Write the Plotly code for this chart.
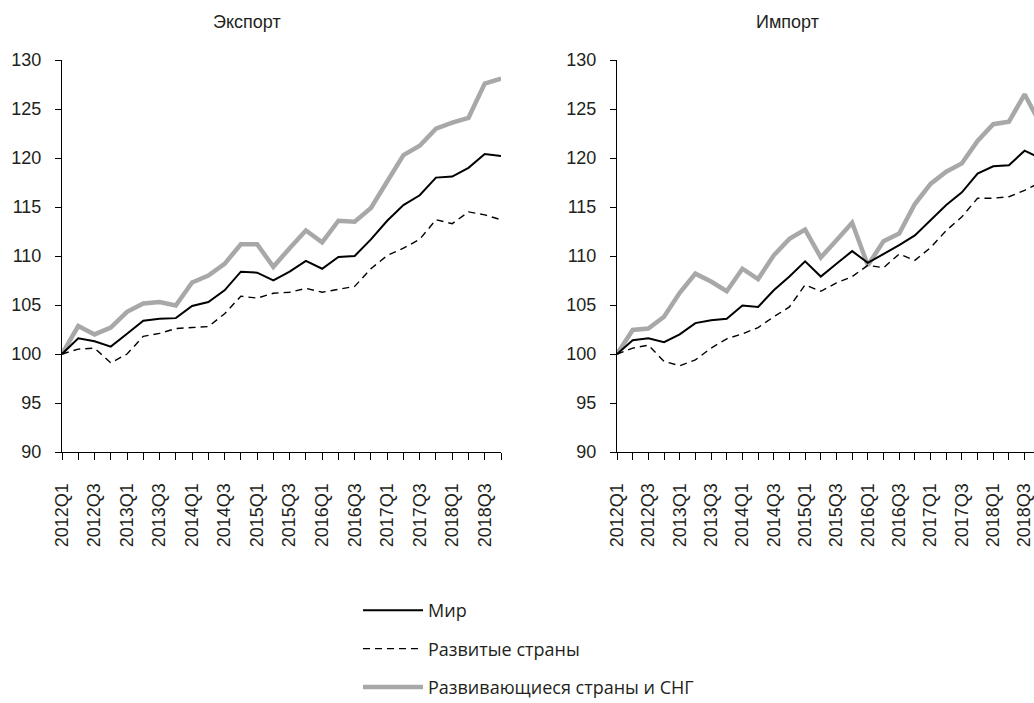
import plotly.graph_objects as go

quarters = [f"{y}Q{q}" for y in range(2012, 2019) for q in range(1, 5)]
tick_text = [q if i % 2 == 0 else "" for i, q in enumerate(quarters)]

exp_world = [100, 101.6, 101.3, 100.75, 102.07, 103.4, 103.6, 103.66, 104.9, 105.3,
             106.5, 108.4, 108.3, 107.5, 108.4, 109.5, 108.7, 109.9, 110.0, 111.7,
             113.6, 115.2, 116.2, 118.0, 118.1, 119.0, 120.4, 120.2]
exp_dev = [100, 100.5, 100.6, 99.1, 100.0, 101.8, 102.1, 102.6, 102.7, 102.8,
           104.1, 105.9, 105.7, 106.2, 106.3, 106.7, 106.3, 106.6, 106.9, 108.7,
           110.05, 110.8, 111.7, 113.7, 113.3, 114.5, 114.2, 113.7]
exp_emg = [100, 102.85, 102.0, 102.7, 104.3, 105.15, 105.3, 104.95, 107.3, 108.0,
           109.2, 111.2, 111.2, 108.9, 110.8, 112.6, 111.4, 113.6, 113.5, 114.9,
           117.6, 120.3, 121.25, 123.0, 123.6, 124.1, 127.6, 128.1]

imp_world = [100, 101.4, 101.6, 101.2, 102.0, 103.15, 103.45, 103.6, 104.95, 104.8,
             106.5, 107.9, 109.45, 107.9, 109.2, 110.5, 109.3, 110.2, 111.1, 112.1,
             113.6, 115.2, 116.5, 118.4, 119.15, 119.25, 120.75, 120.0]
imp_dev = [100, 100.6, 100.9, 99.25, 98.8, 99.4, 100.6, 101.55, 102.05, 102.7,
           103.8, 104.8, 107.05, 106.4, 107.25, 107.9, 109.05, 108.8, 110.2, 109.55,
           110.85, 112.6, 114.0, 115.9, 115.9, 116.05, 116.7, 117.5]
imp_emg = [100, 102.45, 102.6, 103.8, 106.25, 108.2, 107.4, 106.4, 108.7, 107.65,
           110.07, 111.75, 112.7, 109.85, 111.6, 113.4, 109.05, 111.5, 112.3, 115.3,
           117.35, 118.6, 119.45, 121.75, 123.45, 123.7, 126.5, 123.5]

series_names = ["Мир", "Развитые страны", "Развивающиеся страны и СНГ"]
titles = ["Экспорт", "Импорт"]

W, H = 1034, 703
TEXT = "#231f20"
FONT = "Arial, Liberation Sans, sans-serif"

styles = [
    dict(color="#000000", width=2, dash="solid"),
    dict(color="#000000", width=1.4, dash="7px,5px"),
    dict(color="#a8a8a8", width=4.5, dash="solid"),
]

fig = go.Figure()
for xa, ya, data, show in [("x", "y", [exp_world, exp_dev, exp_emg], True),
                           ("x2", "y2", [imp_world, imp_dev, imp_emg], False)]:
    for k in [2, 0, 1]:
        fig.add_trace(go.Scatter(x=quarters, y=data[k], mode="lines", line=styles[k],
                                 name=series_names[k], legendgroup=f"g{k}",
                                 legendrank=k + 1, showlegend=show,
                                 xaxis=xa, yaxis=ya))

ydom = [1 - 452 / H, 1 - 60 / H]
xaxis_common = dict(
    type="category", tickmode="array", tickvals=quarters, ticktext=tick_text,
    tickangle=-90, ticks="outside", ticklen=7, tickwidth=1, tickcolor="#000",
    showline=True, linecolor="#000", linewidth=1, showgrid=False, zeroline=False,
    tickfont=dict(family=FONT, size=18, color=TEXT), ticklabelstandoff=16,
)
yaxis_common = dict(
    range=[90, 130], dtick=5, tick0=90, ticks="outside", ticklen=6, tickwidth=1,
    tickcolor="#000", showline=True, linecolor="#000", linewidth=1, showgrid=False,
    zeroline=False, tickfont=dict(family=FONT, size=18, color=TEXT),
    ticklabelstandoff=10,
)

fig.update_layout(
    width=W, height=H, margin=dict(l=0, r=0, t=0, b=0, autoexpand=False),
    paper_bgcolor="white", plot_bgcolor="white",
    xaxis=dict(domain=[62 / W, 501 / W], range=[0, 27], anchor="y", **xaxis_common),
    yaxis=dict(domain=ydom, anchor="x", **yaxis_common),
    xaxis2=dict(domain=[617 / W, 1.0], range=[0, 26.6], anchor="y2", **xaxis_common),
    yaxis2=dict(domain=ydom, anchor="x2", **yaxis_common),
    showlegend=True,
    legend=dict(x=358 / W, xanchor="left", y=1 - 592 / H, yanchor="top",
                font=dict(family="Open Sans, sans-serif", size=18, color=TEXT),
                tracegroupgap=12, itemwidth=60, bgcolor="rgba(0,0,0,0)",
                traceorder="grouped"),
    annotations=[
        dict(text=titles[0], x=247 / W, y=1 - 22 / H, xref="paper", yref="paper",
             xanchor="center", yanchor="middle", showarrow=False,
             font=dict(family=FONT, size=18, color=TEXT)),
        dict(text=titles[1], x=787 / W, y=1 - 22 / H, xref="paper", yref="paper",
             xanchor="center", yanchor="middle", showarrow=False,
             font=dict(family=FONT, size=18, color=TEXT)),
    ],
)

fig.write_html("out.html", config={"displayModeBar": False},
               post_script="document.body.style.margin='0';")
